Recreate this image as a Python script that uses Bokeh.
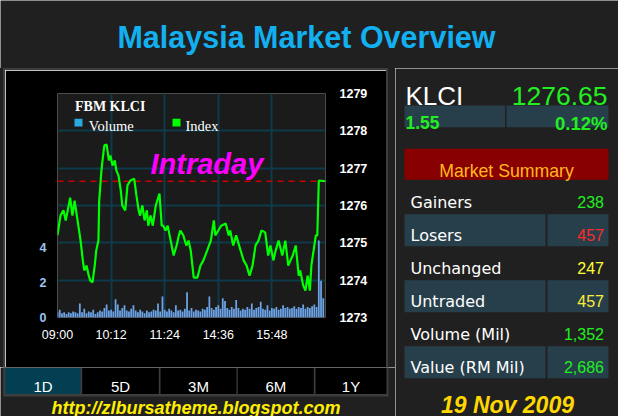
from bokeh.plotting import figure
from bokeh.layouts import column, row
from bokeh.models import Range1d, LinearAxis, FixedTicker, Span, Label, BoxAnnotation, Spacer
from bokeh.core.properties import value
from bokeh.embed import file_html
from bokeh.resources import INLINE

# ---------------- data ----------------
TITLE = "Malaysia Market Overview"
INDEX_NAME = "KLCI"
INDEX_LAST = 1276.65
INDEX_LAST_TEXT = "1276.65"
INDEX_CHG = "1.55"
INDEX_PCT = "0.12%"
DATE_TEXT = "19 Nov 2009"
URL_TEXT = "http://zlbursatheme.blogspot.com"
CHART_TITLE = "FBM KLCI"
CHART_TAG = "Intraday"

time_ticks = [0, 72, 144, 216, 288]
time_labels = ["09:00", "10:12", "11:24", "14:36", "15:48"]
index_ticks = [1273, 1274, 1275, 1276, 1277, 1278, 1279]
vol_ticks = [0, 2, 4]

index_minutes = [0, 4, 8, 11, 15, 17, 20, 23, 26, 28, 31, 34, 36, 39, 42, 44, 47, 50, 52, 55,
                 56, 59, 62, 63, 66, 69, 71, 74, 77, 79, 82, 85, 87, 91, 94, 98, 103, 106, 109, 111,
                 114, 117, 120, 122, 125, 128, 132, 137, 140, 142, 145, 148, 152, 156, 160, 163, 165, 169, 173, 176,
                 179, 183, 188, 192, 196, 201, 206, 210, 212, 216, 220, 226, 230, 232, 236, 240, 246, 250, 254, 258,
                 262, 266, 270, 274, 279, 283, 286, 290, 293, 297, 302, 306, 310, 313, 316, 320, 324, 326, 330, 333,
                 336, 339, 341, 344, 347, 349, 351, 360]
index_values = [1275.20, 1275.73, 1275.87, 1275.60, 1276.00, 1276.21, 1275.73, 1276.13, 1275.73, 1275.46,
                1275.06, 1274.53, 1274.26, 1274.39, 1274.12, 1273.99, 1273.94, 1274.39, 1274.79, 1275.06,
                1276.13, 1276.94, 1277.47, 1277.61, 1277.63, 1277.21, 1277.34, 1277.07, 1277.21, 1276.94,
                1276.80, 1276.40, 1276.00, 1275.87, 1276.54, 1276.67, 1276.72, 1276.27, 1275.87, 1275.73,
                1276.00, 1275.60, 1275.87, 1275.46, 1275.73, 1275.46, 1276.00, 1276.32, 1275.46, 1275.46,
                1275.33, 1275.46, 1275.06, 1274.66, 1274.93, 1275.20, 1275.33, 1275.20, 1274.93, 1275.06,
                1274.79, 1274.07, 1274.07, 1274.39, 1274.53, 1274.79, 1275.06, 1275.60, 1275.20, 1275.33,
                1275.46, 1275.52, 1275.20, 1275.33, 1274.93, 1275.20, 1274.79, 1274.53, 1274.39, 1274.12,
                1274.39, 1274.93, 1275.06, 1275.33, 1275.28, 1274.66, 1274.93, 1274.53, 1274.79, 1275.06,
                1274.66, 1275.06, 1274.39, 1274.53, 1274.66, 1274.93, 1274.12, 1274.26, 1273.86, 1273.72,
                1274.12, 1273.72, 1274.39, 1274.79, 1275.20, 1275.20, 1276.67, 1276.65]

volume_minutes = list(range(0, 360, 3))
volume_values = [0.30, 0.45, 0.25, 0.30, 0.20, 0.30, 0.25, 0.35, 0.30, 0.25,
                 0.80, 0.30, 0.50, 0.25, 0.35, 0.30, 0.45, 0.20, 0.30, 0.40,
                 0.35, 0.55, 0.75, 0.40, 0.45, 0.35, 1.05, 0.75, 0.40, 0.55,
                 0.70, 0.40, 0.35, 0.50, 0.70, 0.40, 0.30, 0.45, 0.35, 0.25,
                 0.40, 0.30, 0.35, 0.45, 0.40, 0.80, 0.35, 1.20, 0.45, 0.35,
                 0.50, 0.40, 0.30, 0.70, 0.40, 0.45, 0.35, 0.50, 1.45, 0.40,
                 0.55, 0.35, 0.45, 0.40, 0.35, 0.50, 0.45, 0.60, 1.20, 0.55,
                 0.45, 0.60, 0.70, 0.50, 1.10, 0.95, 0.55, 0.45, 0.60, 0.50,
                 1.00, 0.55, 0.40, 0.50, 0.45, 0.60, 0.50, 0.80, 0.45, 0.55,
                 0.60, 0.90, 0.50, 0.45, 0.70, 0.40, 0.55, 0.50, 0.60, 0.45,
                 0.50, 0.70, 0.55, 0.60, 0.50, 0.55, 0.65, 0.50, 0.60, 0.55,
                 0.75, 0.50, 0.60, 0.55, 0.65, 0.75, 0.60, 4.40, 2.10, 1.10]

summary_labels = ["Gainers", "Losers", "Unchanged", "Untraded", "Volume (Mil)", "Value (RM Mil)"]
summary_values = ["238", "457", "247", "457", "1,352", "2,686"]
summary_colors = ["#22ee22", "#ff2a2a", "#ffff33", "#ffee33", "#22ee22", "#22ee22"]
tab_labels = ["1D", "5D", "3M", "6M", "1Y"]

# ---------------- helpers ----------------
BG = "#202020"
GRAY = "#3d3d3d"
FONT = value("Liberation Sans")


def base_fig(w, h, xr, yr, bg):
    f = figure(width=w, height=h, x_range=Range1d(*xr), y_range=Range1d(*yr),
               x_axis_location=None, y_axis_location=None, toolbar_location=None,
               output_backend="svg", min_border=0, outline_line_color=None,
               background_fill_color=bg, border_fill_color=bg)
    f.grid.visible = False
    return f


# ---------------- title ----------------
tf = base_fig(618, 68, (0, 618), (68, 0), BG)
tf.text(x=[306], y=[36.5], text=[TITLE], text_align="center", text_baseline="alphabetic",
        text_font=FONT, text_font_style="bold", text_font_size=value("30.5px"), text_color="#12b0f0")

# ---------------- intraday chart ----------------
CX0, CY0 = 5, 70            # chart figure canvas origin on the page
ML, MR, MT, MB = 52, 61, 23, 50
CW, CH = 381, 297
FB = CH - MB

c = figure(width=CW, height=CH, x_range=Range1d(0, 360), y_range=Range1d(index_ticks[0], index_ticks[-1]),
           y_axis_location="right", toolbar_location=None, output_backend="svg",
           min_border_left=ML, min_border_right=MR, min_border_top=MT, min_border_bottom=MB,
           background_fill_color="#1b1b1b", border_fill_color="black", outline_line_color=None)
c.extra_y_ranges = {"vol": Range1d(0, 12.8)}

idx_axis = c.right[0]
idx_axis.ticker = FixedTicker(ticks=index_ticks)
time_axis = c.below[0]
time_axis.ticker = FixedTicker(ticks=time_ticks)
time_axis.major_label_overrides = {t: lab for t, lab in zip(time_ticks, time_labels)}

vol_axis = LinearAxis(y_range_name="vol", ticker=FixedTicker(ticks=vol_ticks))
c.add_layout(vol_axis, "left")

for ax, col, so, st in [(time_axis, "white", 10, "normal"), (idx_axis, "white", 14, "bold"),
                        (vol_axis, "#9cc4f0", 11, "bold")]:
    ax.axis_line_color = None
    ax.major_tick_line_color = None
    ax.minor_tick_line_color = None
    ax.major_tick_out = 0
    ax.major_tick_in = 0
    ax.major_label_standoff = so
    ax.major_label_text_color = col
    ax.major_label_text_font = "Liberation Sans"
    ax.major_label_text_font_style = st
    ax.major_label_text_font_size = "12.5px"

c.xgrid.ticker = FixedTicker(ticks=time_ticks[1:])
c.ygrid.ticker = FixedTicker(ticks=index_ticks[1:-1])
c.grid.grid_line_color = "#0f3a4a"
c.grid.grid_line_width = 2


def fx(xr):
    return xr - CX0 - ML


def fy(yr):
    return FB - (yr - CY0)


c.vbar(x=volume_minutes, top=volume_values, bottom=0, width=2.4, y_range_name="vol",
       fill_color="#6ba3e6", line_color=None)
c.add_layout(Span(location=INDEX_LAST, dimension="width", line_color="#cc0000",
                  line_dash="6 5", line_width=1.5, level="underlay"))
c.line(index_minutes, index_values, line_color="#00ff00", line_width=2.2)

# legend
c.add_layout(Label(x=fx(74.5), y=fy(105.7), x_units="screen", y_units="screen", text=CHART_TITLE,
                   text_font="Liberation Serif", text_font_style="bold", text_font_size="14px",
                   text_color="white", text_baseline="alphabetic"))
c.add_layout(Label(x=fx(88.3), y=fy(125.7), x_units="screen", y_units="screen", text="Volume",
                   text_font="Liberation Serif", text_font_size="14.5px",
                   text_color="white", text_baseline="alphabetic"))
c.add_layout(Label(x=fx(185), y=fy(125.7), x_units="screen", y_units="screen", text="Index",
                   text_font="Liberation Serif", text_font_size="14.5px",
                   text_color="white", text_baseline="alphabetic"))
for (x0, colr) in [(74, "#2aa8e0"), (172, "#00ff00")]:
    c.add_layout(BoxAnnotation(left=fx(x0), right=fx(x0 + 8), top=fy(118.3), bottom=fy(126),
                               left_units="screen", right_units="screen", top_units="screen",
                               bottom_units="screen", fill_color=colr, fill_alpha=1, line_color=None))
c.add_layout(Label(x=fx(150), y=fy(163.3), x_units="screen", y_units="screen", text=CHART_TAG,
                   text_font="Liberation Sans", text_font_style="bold italic", text_font_size="29px",
                   text_color="#ff00ff", text_baseline="alphabetic"))

# ---------------- tabs + url ----------------
bf = base_fig(395, 49, (0, 395), (416, 367), BG)
bf.quad(left=[2.7], right=[388], top=[366], bottom=[396], fill_color=GRAY, line_color=None)
tab_left = [5, 81.7, 160, 237.3, 315]
tab_right = [80, 158.3, 236, 313.3, 386]
tab_fill = ["#033f52", "black", "black", "black", "black"]
bf.quad(left=tab_left, right=tab_right, top=[367.5] * 5, bottom=[393.5] * 5,
        fill_color=tab_fill, line_color=None)
bf.text(x=[(a + b) / 2 for a, b in zip(tab_left, tab_right)], y=[386] * 5, text=tab_labels,
        text_align="center", text_baseline="alphabetic", text_font=FONT,
        text_font_size=value("15px"), text_color="white")
bf.text(x=[195.5], y=[407], text=[URL_TEXT], text_align="center", text_baseline="alphabetic",
        text_font=FONT, text_font_style="bold italic", text_font_size=value("18px"),
        text_color="#ffee00")

# ---------------- right summary panel ----------------
rf = base_fig(223, 348, (395, 618), (416, 68), BG)
rf.text(x=[405], y=[95], text=[INDEX_NAME], text_baseline="alphabetic", text_font=FONT,
        text_font_size=value("26px"), text_color="white")
rf.text(x=[607], y=[95], text=[INDEX_LAST_TEXT], text_align="right", text_baseline="alphabetic",
        text_font=FONT, text_font_size=value("26.5px"), text_color="#22ee22")
rf.quad(left=[404, 506], right=[504.5, 608], top=[105, 105], bottom=[126.7, 126.7],
        fill_color="#273f4b", line_color=None)
rf.text(x=[405], y=[121.7], text=[INDEX_CHG], text_baseline="alphabetic", text_font=FONT,
        text_font_style="bold", text_font_size=value("17.5px"), text_color="#22ee22")
rf.text(x=[607], y=[123.3], text=[INDEX_PCT], text_align="right", text_baseline="alphabetic",
        text_font=FONT, text_font_style="bold", text_font_size=value("18.5px"), text_color="#22ee22")
rf.quad(left=[404], right=[608], top=[148.3], bottom=[179.3], fill_color="#880000", line_color=None)
rf.text(x=[506], y=[170], text=["Market Summary"], text_align="center", text_baseline="alphabetic",
        text_font=FONT, text_font_size=value("17.7px"), text_color="#ffb81c")

row_base = [201.7 + 33 * i for i in range(len(summary_labels))]
shaded = [b for i, b in enumerate(row_base) if i % 2 == 1]
rf.quad(left=[404] * 3, right=[545] * 3, top=[b - 21 for b in shaded], bottom=[b + 11 for b in shaded],
        fill_color="#273f4b", line_color=None)
rf.quad(left=[547] * 3, right=[608] * 3, top=[b - 21 for b in shaded], bottom=[b + 11 for b in shaded],
        fill_color="#273f4b", line_color=None)
rf.text(x=[410] * len(summary_labels), y=row_base, text=summary_labels, text_baseline="alphabetic",
        text_font=value("DejaVu Sans"), text_font_size=value("16px"), text_color="white")
rf.text(x=[603.5] * len(summary_values), y=row_base, text=summary_values, text_align="right",
        text_baseline="alphabetic", text_font=FONT, text_font_size=value("16px"),
        text_color=summary_colors)
rf.text(x=[507], y=[404], text=[DATE_TEXT], text_align="center", text_baseline="alphabetic",
        text_font=FONT, text_font_style="bold italic", text_font_size=value("23px"),
        text_color="#ffd800")

# ---------------- layout ----------------
top_border = row(Spacer(width=3, height=2, background=BG),
                 Spacer(width=385, height=2, background=GRAY),
                 Spacer(width=7, height=2, background=BG))
chart_row = row(Spacer(width=3, height=CH, background=BG),
                Spacer(width=2, height=CH, background=GRAY),
                c,
                Spacer(width=2, height=CH, background=GRAY),
                Spacer(width=7, height=CH, background=BG))
left_col = column(top_border, chart_row, row(bf))
layout = column(tf, row(left_col, rf))
open("out.html", "w").write(file_html(layout, INLINE))
